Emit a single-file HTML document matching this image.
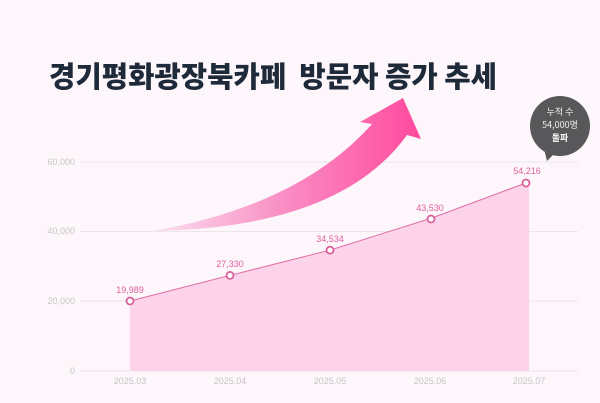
<!DOCTYPE html>
<html><head><meta charset="utf-8"><style>
html,body{margin:0;padding:0;background:#fdf6fa;}
svg{display:block}
</style></head><body>
<svg width="600" height="403" viewBox="0 0 600 403" xmlns="http://www.w3.org/2000/svg" font-family="Liberation Sans, Noto Sans CJK KR, sans-serif">
<defs>
<linearGradient id="ag" x1="153" y1="0" x2="420" y2="0" gradientUnits="userSpaceOnUse">
<stop offset="0" stop-color="#fbe0ee"/><stop offset="0.5" stop-color="#f98cc3"/><stop offset="1" stop-color="#ff4a9e"/>
</linearGradient>
</defs>
<rect width="600" height="403" fill="#fdf6fa"/>
<text x="49" y="87" font-size="29" font-weight="900" fill="#1e2a3a" font-family="Noto Sans CJK KR, sans-serif" textLength="448" lengthAdjust="spacingAndGlyphs" xml:space="preserve">경기평화광장북카페  방문자 증가 추세</text>
<!-- grid -->
<g stroke="#ece6ea" stroke-width="1">
<line x1="80" y1="162" x2="578" y2="162"/>
<line x1="80" y1="231.5" x2="578" y2="231.5"/>
<line x1="80" y1="301" x2="578" y2="301"/>
<line x1="80" y1="371" x2="578" y2="371"/>
</g>
<g font-size="9" fill="#c9c4c8" text-anchor="end">
<text x="75" y="165">60,000</text>
<text x="75" y="234">40,000</text>
<text x="75" y="304">20,000</text>
<text x="75" y="374">0</text>
</g>
<g font-size="9" fill="#c9c4c8" text-anchor="middle">
<text x="130" y="384">2025.03</text>
<text x="230" y="384">2025.04</text>
<text x="330" y="384">2025.05</text>
<text x="430" y="384">2025.06</text>
<text x="529" y="384">2025.07</text>
</g>
<!-- arrow -->
<path d="M153,231 Q300,205 372,124 L360,122 L403,98 L421,139 L407,135 Q340,228 153,231 Z" fill="url(#ag)"/>
<!-- area -->
<path d="M130,301 L230,275.4 L330,250.1 L430,218.6 L529,181.2 L529,371 L130,371 Z" fill="#fcd3e9"/>
<polyline points="130,301 230,275.4 330,250.1 430,218.6 526,183" fill="none" stroke="#e070a8" stroke-width="1"/>
<g fill="#fff" stroke="#d9609c" stroke-width="1.8">
<circle cx="130" cy="301" r="3.5"/><circle cx="230" cy="275.4" r="3.5"/><circle cx="330" cy="250.1" r="3.5"/><circle cx="431" cy="219" r="3.5"/><circle cx="526" cy="183" r="3.5"/>
</g>
<g font-size="9" fill="#e0609e" text-anchor="middle">
<text x="130" y="293">19,989</text>
<text x="230" y="267">27,330</text>
<text x="330" y="242">34,534</text>
<text x="430" y="211">43,530</text>
<text x="527" y="174">54,216</text>
</g>
<!-- bubble -->
<path d="M543,145 L547,161 L558,150 Z" fill="#58585a"/>
<circle cx="560" cy="126" r="30" fill="#58585a"/>
<g font-size="9" fill="#f0f0f0" text-anchor="middle" font-family="Noto Sans CJK KR, sans-serif">
<text x="560" y="115">누적 수</text>
<text x="560" y="128">54,000명</text>
<text x="560" y="141" font-weight="bold" fill="#fff">돌파</text>
</g>
</svg>
</body></html>
